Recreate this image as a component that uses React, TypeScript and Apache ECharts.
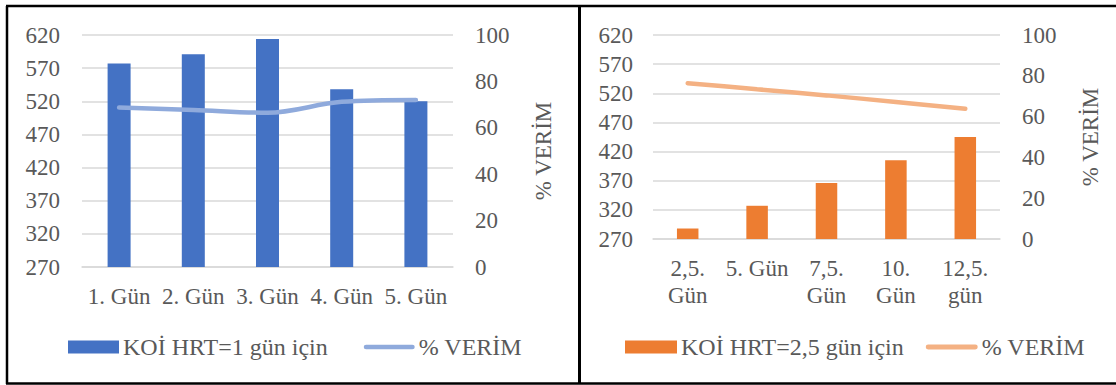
import React, { useEffect, useRef } from "react";
import * as echarts from "echarts";

// Panel 1: HRT = 1 day
const daysA = ["1. Gün", "2. Gün", "3. Gün", "4. Gün", "5. Gün"];
const koiA = [577, 591, 614, 538, 520];
const verimA = [68.7, 67.7, 66.5, 71.2, 72];

// Panel 2: HRT = 2.5 days
const daysB = ["2,5.\nGün", "5. Gün", "7,5.\nGün", "10.\nGün", "12,5.\ngün"];
const koiB = [288, 327, 366, 405, 445];
const verimB = [76.4, 73.4, 70.4, 67.2, 63.8];

const koiTicks = { min: 270, max: 620, interval: 50 };
const verimTicks = { min: 0, max: 100, interval: 20 };

const FONT = "'Liberation Serif', 'Times New Roman', serif";
const TXT = "#595959";
const GRID = "#d9d9d9";
const FS = 23;

const labelStyle = { color: TXT, fontFamily: FONT, fontSize: FS };
const legendText = { color: TXT, fontFamily: FONT, fontSize: 24 };

// thick rounded stroke used as the legend key of the line series
const LINE_ICON = "path://M2.5,0 H51.5 A2.5,2.5 0 0 1 51.5,5 H2.5 A2.5,2.5 0 0 1 2.5,0 Z";

function leftAxis(gridIndex: number, margin: number) {
  return {
    type: "value",
    gridIndex,
    position: "left",
    ...koiTicks,
    axisLine: { show: false },
    axisTick: { show: false },
    axisLabel: { ...labelStyle, margin },
    splitLine: { lineStyle: { color: GRID, width: 1.5 } },
  };
}

function rightAxis(gridIndex: number, margin: number) {
  return {
    type: "value",
    gridIndex,
    position: "right",
    ...verimTicks,
    name: "% VERİM",
    nameLocation: "middle",
    nameRotate: 90,
    nameGap: 79,
    nameTextStyle: { ...labelStyle },
    axisLine: { show: false },
    axisTick: { show: false },
    axisLabel: { ...labelStyle, margin },
    splitLine: { show: false },
  };
}

function catAxis(gridIndex: number, data: string[], margin: number) {
  return {
    type: "category",
    gridIndex,
    data,
    axisLine: { lineStyle: { color: GRID, width: 1.5 } },
    axisTick: { show: false },
    axisLabel: { ...labelStyle, margin, lineHeight: 27, interval: 0 },
  };
}

export default function App() {
  const ref = useRef<HTMLDivElement>(null);

  useEffect(() => {
    if (!ref.current) return;
    const chart = echarts.init(ref.current, undefined, { renderer: "svg" });
    const border = { stroke: "#000", lineWidth: 2.5 };
    chart.setOption({
      animation: false,
      backgroundColor: "#fff",
      textStyle: { fontFamily: FONT },
      grid: [
        { left: 82, right: 663, top: 35, bottom: 118 },
        { left: 653, right: 116, top: 35, bottom: 146 },
      ],
      xAxis: [catAxis(0, daysA, 16), catAxis(1, daysB, 16)],
      yAxis: [leftAxis(0, 22), rightAxis(0, 22), leftAxis(1, 20), rightAxis(1, 22)],
      legend: [
        {
          left: 68,
          top: 335,
          padding: 0,
          itemWidth: 51,
          itemHeight: 13,
          itemGap: 36,
          textStyle: { ...legendText, padding: [0, 0, 0, -1] },
          data: [
            { name: "KOİ HRT=1 gün için", icon: "rect" },
            { name: "% VERİM", icon: LINE_ICON },
          ],
        },
        {
          left: 625,
          top: 335,
          padding: 0,
          itemWidth: 52,
          itemHeight: 13,
          itemGap: 22,
          textStyle: { ...legendText, padding: [0, 0, 0, -1] },
          data: [
            { name: "KOİ HRT=2,5 gün için", icon: "rect" },
            { name: "% VERİM ", icon: LINE_ICON },
          ],
        },
      ],
      series: [
        {
          name: "KOİ HRT=1 gün için",
          type: "bar",
          xAxisIndex: 0,
          yAxisIndex: 0,
          data: koiA,
          barWidth: "31%",
          itemStyle: { color: "#4472C4" },
        },
        {
          name: "% VERİM",
          type: "line",
          xAxisIndex: 0,
          yAxisIndex: 1,
          data: verimA,
          smooth: 0.35,
          showSymbol: false,
          symbol: "none",
          itemStyle: { color: "#8FAADC" },
          lineStyle: { color: "#8FAADC", width: 4.5, cap: "round" },
        },
        {
          name: "KOİ HRT=2,5 gün için",
          type: "bar",
          xAxisIndex: 1,
          yAxisIndex: 2,
          data: koiB,
          barWidth: "31%",
          itemStyle: { color: "#ED7D31" },
        },
        {
          name: "% VERİM ",
          type: "line",
          xAxisIndex: 1,
          yAxisIndex: 3,
          data: verimB,
          smooth: 0.2,
          showSymbol: false,
          symbol: "none",
          itemStyle: { color: "#F4B183" },
          lineStyle: { color: "#F4B183", width: 4.5, cap: "round" },
        },
      ],
      graphic: [
        { type: "line", shape: { x1: 7, y1: 6, x2: 7, y2: 384 }, style: border },
        { type: "line", shape: { x1: 6, y1: 6, x2: 1116, y2: 6 }, style: border },
        { type: "line", shape: { x1: 6, y1: 383.5, x2: 1116, y2: 383.5 }, style: border },
        { type: "line", shape: { x1: 579.5, y1: 6, x2: 579.5, y2: 384 }, style: { stroke: "#000", lineWidth: 3 } },
      ],
    });
    return () => chart.dispose();
  }, []);

  return (
    <div
      ref={ref}
      style={{ position: "absolute", left: 0, top: 0, width: 1116, height: 385 }}
    />
  );
}
